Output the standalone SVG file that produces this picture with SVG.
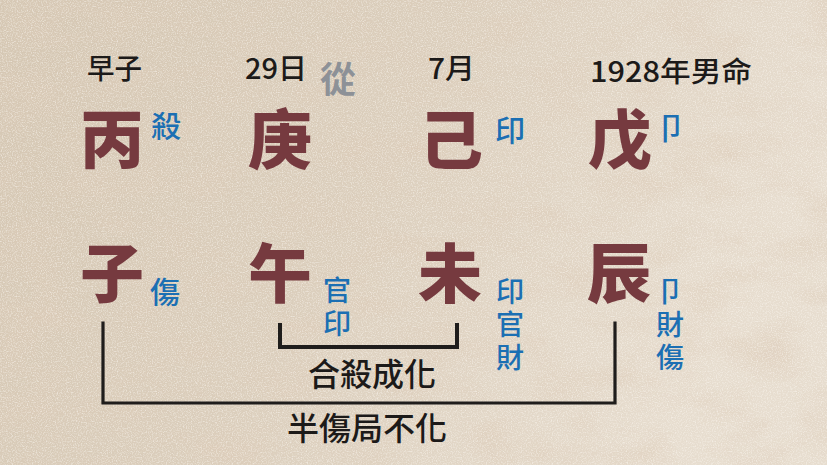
<svg xmlns="http://www.w3.org/2000/svg" width="827" height="465" viewBox="0 0 827 465">
<defs>
<linearGradient id="bg" x1="0" y1="0" x2="1" y2="0.3">
<stop offset="0" stop-color="#d5c7b3"/>
<stop offset="0.5" stop-color="#dbcebc"/>
<stop offset="1" stop-color="#e7ddcf"/>
</linearGradient>
<filter id="paper" x="0" y="0" width="100%" height="100%">
<feTurbulence type="fractalNoise" baseFrequency="0.8" numOctaves="2" seed="3" result="n"/>
<feColorMatrix in="n" type="matrix" values="0 0 0 0 0.98  0 0 0 0 0.95  0 0 0 0 0.9  0 0 0 2.5 -1.1"/>
</filter>
<filter id="blotch" x="0" y="0" width="100%" height="100%">
<feTurbulence type="fractalNoise" baseFrequency="0.015 0.03" numOctaves="4" seed="8" result="n"/>
<feColorMatrix in="n" type="matrix" values="0 0 0 0 0.72  0 0 0 0 0.6  0 0 0 0 0.48  0 0 0 2.2 -0.9"/>
</filter>
</defs>
<style>
.lbl{font-family:"Noto Sans CJK TC","Noto Sans CJK SC",sans-serif;font-size:28px;fill:#1c1a19;font-weight:500}
.big{font-family:"Noto Sans CJK TC","Noto Sans CJK SC",sans-serif;font-size:64px;font-weight:900;fill:#763a3f;text-anchor:middle}
.ss{font-family:"Noto Sans CJK TC","Noto Sans CJK SC",sans-serif;font-size:30px;font-weight:500;fill:#1b6fb3;text-anchor:middle}
.vt{font-family:"Noto Sans CJK TC","Noto Sans CJK SC",sans-serif;font-size:28px;font-weight:500;fill:#1b6fb3;text-anchor:middle;writing-mode:vertical-rl;letter-spacing:5px}
.cong{font-family:"Noto Sans CJK TC","Noto Sans CJK SC",sans-serif;font-size:36px;font-weight:700;fill:#8d9197;text-anchor:middle}
.note{font-family:"Noto Sans CJK TC","Noto Sans CJK SC",sans-serif;font-size:32px;font-weight:500;fill:#1c1a19;text-anchor:middle}
.br{fill:none;stroke:#1f1d1c;stroke-linejoin:miter;stroke-linecap:square}
</style>
<rect width="827" height="465" fill="url(#bg)"/>
<rect width="827" height="465" filter="url(#blotch)" opacity="0.5"/>
<rect width="827" height="465" filter="url(#paper)" opacity="0.55"/>

<g id="labels">
<text class="lbl" x="87" y="79" textLength="55" lengthAdjust="spacingAndGlyphs">早子</text>
<text class="lbl" x="245" y="79" textLength="62" lengthAdjust="spacingAndGlyphs">29日</text>
<text class="lbl" x="428" y="79" textLength="47" lengthAdjust="spacingAndGlyphs">7月</text>
<text class="lbl" x="590" y="82" textLength="162" lengthAdjust="spacingAndGlyphs">1928年男命</text>
<text class="cong" x="338" y="93">從</text>
</g>

<g id="node-bing">
<text class="big" x="112" y="163">丙</text>
<text class="ss" x="166" y="137">殺</text>
</g>
<g id="node-geng">
<text class="big" x="280" y="163">庚</text>
</g>
<g id="node-ji">
<text class="big" x="451" y="163">己</text>
<text class="ss" x="510" y="141">印</text>
</g>
<g id="node-wu">
<text class="big" x="620" y="163">戊</text>
<text class="ss" x="671" y="139">卩</text>
</g>

<g id="node-zi">
<text class="big" x="112" y="297">子</text>
<text class="ss" x="165" y="303">傷</text>
</g>
<g id="node-wu2">
<text class="big" x="280" y="297">午</text>
<text class="vt" x="337" y="309">官印</text>
</g>
<g id="node-wei">
<text class="big" x="450" y="297">未</text>
<text class="vt" x="510" y="327">印官財</text>
</g>
<g id="node-chen">
<text class="big" x="619" y="297">辰</text>
<text class="vt" x="670" y="327">卩財傷</text>
</g>

<g id="connectors">
<path class="br" d="M103 323 V403 H615 V323" stroke-width="3.2"/>
<path class="br" d="M280 325 V347 H457 V325" stroke-width="4"/>
</g>

<g id="notes">
<text class="note" x="372" y="386">合殺成化</text>
<text class="note" x="367" y="440">半傷局不化</text>
</g>
</svg>
